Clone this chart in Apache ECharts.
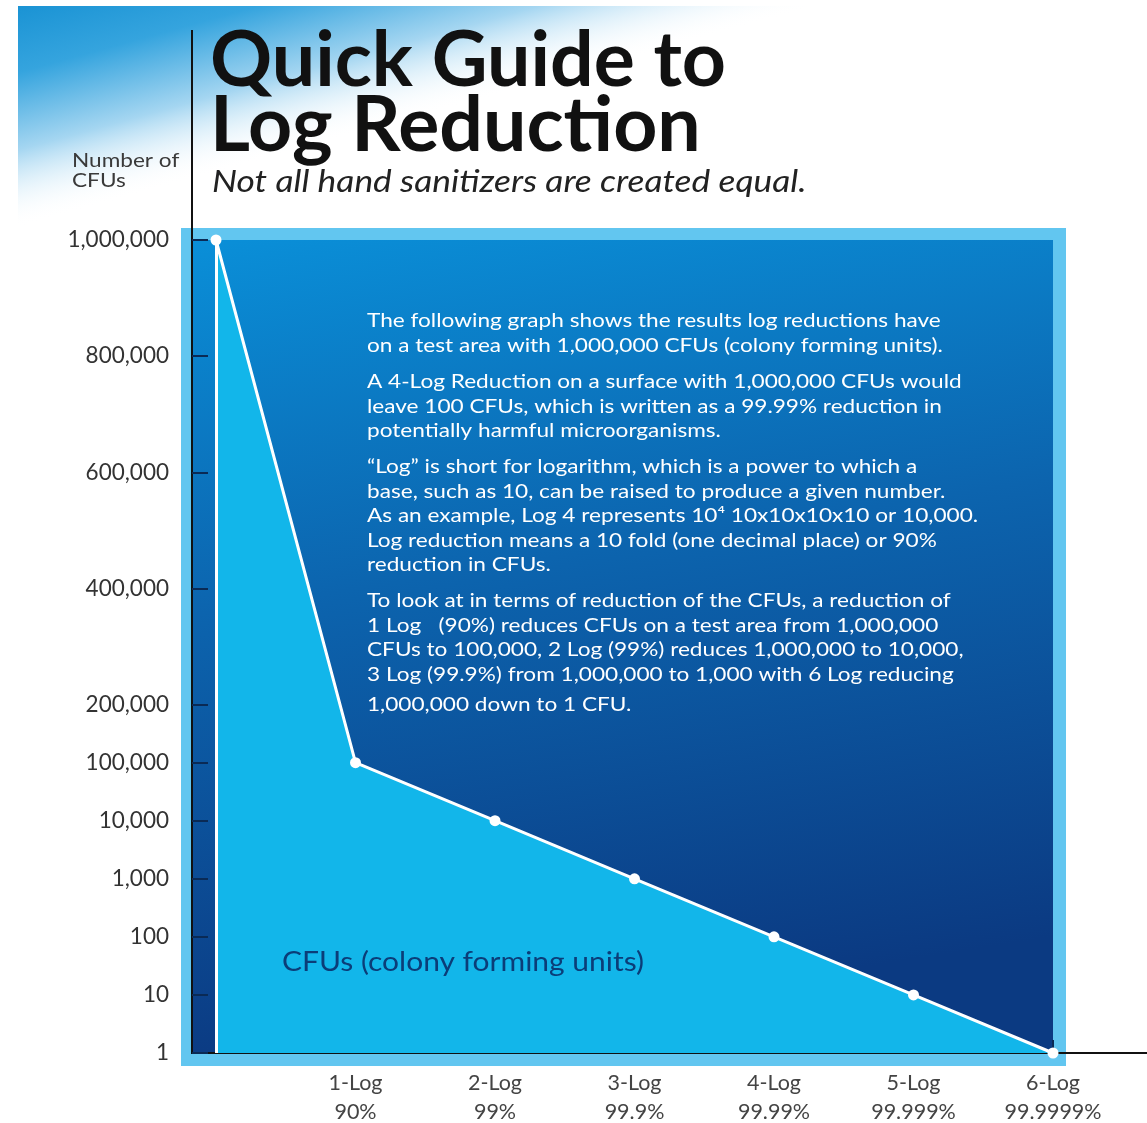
<!DOCTYPE html>
<html><head><meta charset="utf-8">
<script src="https://cdn.jsdelivr.net/npm/echarts@6/dist/echarts.min.js"></script>
<style>html,body{margin:0;padding:0;background:#fff}#c{width:1147px;height:1123px}</style>
</head><body><div id="c"></div>
<script>
// ---- data ----
const xLabels = ['', '1-Log\n90%', '2-Log\n99%', '3-Log\n99.9%', '4-Log\n99.99%', '5-Log\n99.999%', '6-Log\n99.9999%'];
const logSteps = [0, 1, 2, 3, 4, 5, 6];
const cfuValues = [1000000, 100000, 10000, 1000, 100, 10, 1];
const yTickValues = [1, 10, 100, 1000, 10000, 100000, 200000, 400000, 600000, 800000, 1000000];
const paragraphs = [
  'The following graph shows the results log reductions have\non a test area with 1,000,000 CFUs (colony forming units).',
  'A 4-Log Reduction on a surface with 1,000,000 CFUs would\nleave 100 CFUs, which is written as a 99.99% reduction in\npotentially harmful microorganisms.',
  '\u201cLog\u201d is short for logarithm, which is a power to which a\nbase, such as 10, can be raised to produce a given number.\nAs an example, Log 4 represents 10\u2074 10x10x10x10 or 10,000.\nLog reduction means a 10 fold (one decimal place) or 90%\nreduction in CFUs.',
  'To look at in terms of reduction of the CFUs, a reduction of\n1 Log   (90%) reduces CFUs on a test area from 1,000,000\nCFUs to 100,000, 2 Log (99%) reduces 1,000,000 to 10,000,\n3 Log (99.9%) from 1,000,000 to 1,000 with 6 Log reducing',
  '1,000,000 down to 1 CFU.'
];

// piecewise scale of the original graphic: log steps up to 100,000, then linear
function pos(v) { return v <= 100000 ? Math.log10(v) : 5 + (v - 100000) / 100000; }
const yMax = pos(1000000);
const yCats = [];
for (let i = 0; i <= yMax; i++) yCats.push('');
yTickValues.forEach(v => { yCats[Math.round(pos(v))] = v.toLocaleString('en-US'); });
const seriesData = logSteps.map((s, i) => [s, pos(cfuValues[i])]);

const FONT = 'Lato';
const LG = echarts.graphic.LinearGradient;
const chart = echarts.init(document.getElementById('c'));
const textEls = [];
const paraTops = [309, 370, 455, 589, 693];
paragraphs.forEach((p, i) => {
  textEls.push({type: 'text', x: 367, y: paraTops[i], scaleX: 1.19, z: 5,
    style: {text: p, fill: '#ffffff', fontSize: 19, fontFamily: FONT, lineHeight: 24.5}});
});

chart.setOption({
  animation: false,
  backgroundColor: '#ffffff',
  grid: {left: 216, right: 94, top: 240, bottom: 70, containLabel: false, outerBoundsMode: 'none'},
  xAxis: {
    type: 'value', min: 0, max: 6, interval: 1, z: 3,
    axisLine: {show: true, lineStyle: {color: '#111', width: 2}},
    axisTick: {show: true, inside: true, length: 13, lineStyle: {color: '#0a2a55', width: 2}},
    axisLabel: {formatter: v => xLabels[v] || '', color: '#444', fontSize: 21.5, fontFamily: FONT, lineHeight: 29, margin: 16},
    splitLine: {show: false}
  },
  yAxis: [
    {type: 'value', min: 0, max: yMax, interval: 1, show: false},
    {type: 'category', data: yCats, boundaryGap: false, position: 'left', offset: 24, z: 3,
     axisLine: {show: true, lineStyle: {color: '#111', width: 2}},
     axisTick: {show: true, inside: true, length: 16,
       interval: (i, v) => v !== '', lineStyle: {color: '#0a2a55', width: 2}},
     axisLabel: {interval: 0, color: '#333', fontSize: 22.5, fontFamily: FONT, margin: 23},
     splitLine: {show: false}}
  ],
  series: [{
    type: 'line', xAxisIndex: 0, yAxisIndex: 0, data: seriesData,
    symbol: 'circle', symbolSize: 11, z: 4,
    itemStyle: {color: '#ffffff'},
    lineStyle: {color: '#ffffff', width: 3},
    areaStyle: {color: '#12b6ea', opacity: 1},
    markLine: {silent: true, symbol: ['none', 'none'], label: {show: false},
      lineStyle: {color: '#ffffff', width: 3, type: 'solid'},
      data: [{xAxis: 0}]}
  }],
  graphic: [
    {type: 'rect', z: -30, shape: {x: 18, y: 6, width: 1129, height: 230},
     style: {fill: new LG(18, 6, 75, 212, [
       {offset: 0, color: '#1a93d4'}, {offset: 0.3, color: '#35a4de'}, {offset: 0.65, color: '#a5d6f1'}, {offset: 1, color: 'rgba(255,255,255,0)'}], true)}},
    {type: 'rect', z: -20, shape: {x: 181, y: 228, width: 885, height: 838}, style: {fill: '#62c6f0'}},
    {type: 'rect', z: -19, shape: {x: 192, y: 240, width: 861, height: 813},
     style: {fill: new LG(0, 0, 0.15, 1, [
       {offset: 0, color: '#0a8fd8'}, {offset: 0.45, color: '#0c64ae'}, {offset: 1, color: '#0b3a82'}])}},
    {type: 'line', z: 3, shape: {x1: 192, y1: 30, x2: 192, y2: 241}, style: {stroke: '#111', lineWidth: 2}},
    {type: 'line', z: 3, shape: {x1: 191, y1: 1053, x2: 217, y2: 1053}, style: {stroke: '#111', lineWidth: 2}},
    {type: 'line', z: 3, shape: {x1: 1053, y1: 1053, x2: 1147, y2: 1053}, style: {stroke: '#111', lineWidth: 2}},
    {type: 'text', left: 210, top: 23, z: 5, style: {text: 'Quick Guide to', fill: '#111', fontSize: 77, fontWeight: 'bold', fontFamily: FONT}},
    {type: 'text', left: 210, top: 88, z: 5, style: {text: 'Log Reduction', fill: '#111', fontSize: 77, fontWeight: 'bold', fontFamily: FONT}},
    {type: 'text', x: 212, y: 166, scaleX: 1.14, z: 5, style: {text: 'Not all hand sanitizers are created equal.', fill: '#222', fontSize: 31, fontStyle: 'italic', fontFamily: FONT}},
    {type: 'text', x: 72, y: 151, scaleX: 1.13, z: 5, style: {text: 'Number of\nCFUs', fill: '#3a3a3a', fontSize: 20, fontFamily: FONT, lineHeight: 20}},
    {type: 'text', x: 282, y: 949, scaleX: 1.11, z: 5, style: {text: 'CFUs (colony forming units)', fill: '#0b3d78', fontSize: 27, fontFamily: FONT}}
  ].concat(textEls)
});
</script></body></html>
